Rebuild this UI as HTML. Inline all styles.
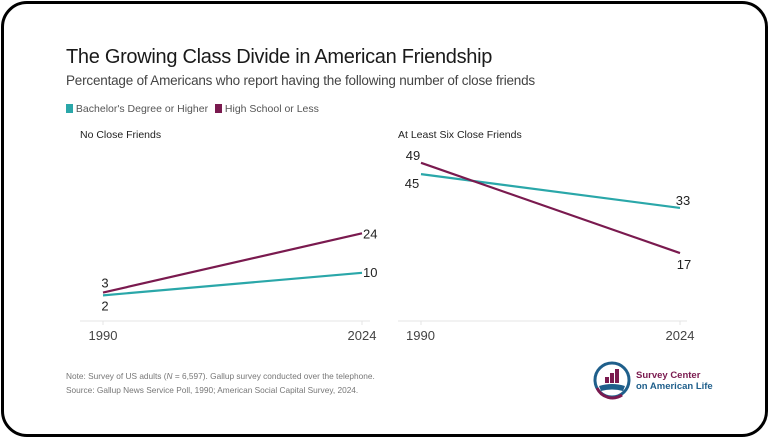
<!DOCTYPE html>
<html><head><meta charset="utf-8"><style>
body{margin:0;width:769px;height:438px;background:#fff;font-family:"Liberation Sans",sans-serif;overflow:hidden}
#frame{position:absolute;left:1px;top:1px;width:761px;height:430px;border:3px solid #000;border-radius:26px;background:#fff}
.t{position:absolute;white-space:nowrap;color:#222}
</style></head><body>
<div id="frame"></div>
<div class="t" style="left:66px;top:46px;font-size:20px;letter-spacing:-0.3px;color:#1a1a1a">The Growing Class Divide in American Friendship</div>
<div class="t" style="left:66px;top:73px;font-size:13.5px;color:#444;letter-spacing:-0.2px">Percentage of Americans who report having the following number of close friends</div>
<div style="position:absolute;left:66px;top:103px;font-size:10.5px;color:#555">
<span style="display:inline-block;width:7px;height:9px;background:#2aa7a9;vertical-align:-1px"></span>
<span>Bachelor's Degree or Higher</span>
<span style="display:inline-block;width:7px;height:9px;background:#7a1a4f;vertical-align:-1px;margin-left:4px"></span>
<span>High School or Less</span>
</div>
<div class="t" style="left:80px;top:129px;font-size:10.5px">No Close Friends</div>
<div class="t" style="left:398px;top:129px;font-size:10.5px">At Least Six Close Friends</div>
<svg id="chart" width="769" height="438" style="position:absolute;left:0;top:0"></svg>
<div class="t" style="left:66px;top:371px;font-size:8.3px;color:#777">Note: Survey of US adults (<i>N</i> = 6,597). Gallup survey conducted over the telephone.</div>
<div class="t" style="left:66px;top:385px;font-size:8.3px;color:#777">Source: Gallup News Service Poll, 1990; American Social Capital Survey, 2024.</div>
<svg width="40" height="40" style="position:absolute;left:592px;top:360px">
<circle cx="20" cy="20" r="17" fill="none" stroke="#1f5f8b" stroke-width="3"/>
<path d="M5 28 A17 17 0 0 0 30 35" fill="none" stroke="#7a1a4f" stroke-width="3"/>
<rect x="13" y="17" width="4" height="6" fill="#7a1a4f"/><rect x="18" y="13" width="4" height="10" fill="#7a1a4f"/><rect x="23" y="9" width="4" height="14" fill="#7a1a4f"/>
<path d="M7 26 Q20 22 33 26 L31 31 Q20 28 9 31Z" fill="#1f5f8b"/>
</svg>
<div class="t" style="left:636px;top:370px;font-size:9.5px;font-weight:bold;line-height:11px"><span style="color:#7a1a4f">Survey Center</span><br><span style="color:#1f5f8b">on American Life</span></div>
<script>
const years=["1990","2024"];
const noFriendsBachelor=[2,10];
const noFriendsHS=[3,24];
const sixBachelor=[45,33];
const sixHS=[49,17];
const NS="http://www.w3.org/2000/svg";
const svg=document.getElementById('chart');
const y=v=>301-2.82*v;
function mk(tag,attrs){const e=document.createElementNS(NS,tag);for(const k in attrs)e.setAttribute(k,attrs[k]);svg.appendChild(e);return e;}
function txt(x,yy,s,anchor,name,col){const e=mk('text',{x:x,y:yy,'text-anchor':anchor,'font-size':'13','fill':col||'#222','font-family':'Liberation Sans, sans-serif'});e.textContent=s;


return e;}
function panel(x0,x1,ax0,ax1,bach,hs,id,left){
  const xs=[x0,x1];
  const ax=mk('line',{x1:ax0,x2:ax1,y1:321,y2:321,stroke:'#e4e4e4','stroke-width':1});
  
  
  xs.forEach((x,i)=>{const tk=mk('line',{x1:x,x2:x,y1:321,y2:325,stroke:'#e4e4e4'});
    
    
    txt(i==0?(left?x:x-15):x,340,years[i],i==0&&left?'middle':(i==0?'start':'middle'),id+'-year-'+years[i],'#444');});
  [[bach,'#2aa7a9','bachelor'],[hs,'#7a1a4f','highschool']].forEach(([d,c,n])=>{
    const l=mk('line',{x1:xs[0],y1:y(d[0]),x2:xs[1],y2:y(d[1]),stroke:c,'stroke-width':2.2});
    
    
  });
  return xs;
}
panel(103,362,80,370,noFriendsBachelor,noFriendsHS,'no-friends',true);
txt(105,y(noFriendsHS[0])-5,String(noFriendsHS[0]),'middle','label-nf-hs-1990');
txt(105,y(noFriendsBachelor[0])+15,String(noFriendsBachelor[0]),'middle','label-nf-ba-1990');
txt(363,y(noFriendsHS[1])+5,String(noFriendsHS[1]),'start','label-nf-hs-2024');
txt(363,y(noFriendsBachelor[1])+4,String(noFriendsBachelor[1]),'start','label-nf-ba-2024');
panel(421,680,398,687,sixBachelor,sixHS,'six-friends',false);
txt(413,y(sixHS[0])-3,String(sixHS[0]),'middle','label-six-hs-1990');
txt(412,y(sixBachelor[0])+14,String(sixBachelor[0]),'middle','label-six-ba-1990');
txt(683,y(sixBachelor[1])-3,String(sixBachelor[1]),'middle','label-six-ba-2024');
txt(684,y(sixHS[1])+16,String(sixHS[1]),'middle','label-six-hs-2024');
</script>
</body></html>
